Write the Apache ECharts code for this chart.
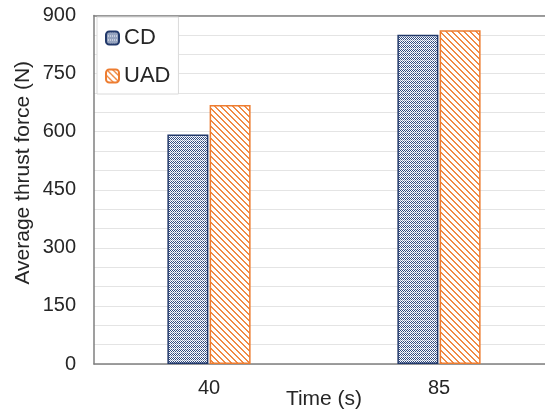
<!DOCTYPE html>
<html>
<head>
<meta charset="utf-8">
<script src="https://cdn.jsdelivr.net/npm/echarts@6/dist/echarts.min.js"></script>
<style>html,body{margin:0;padding:0;background:#fff}#c{width:545px;height:412px}</style>
</head>
<body>
<div id="c"></div>
<script>
const categories = ['40', '85'];
const seriesNames = ['CD', 'UAD'];
const cdValues = [593, 850];
const uadValues = [669, 862];

function cdPattern() {
  const c = document.createElement('canvas');
  c.width = 4; c.height = 4;
  const g = c.getContext('2d');
  g.fillStyle = '#ffffff'; g.fillRect(0, 0, 4, 4);
  for (let y = 0; y < 4; y++) for (let x = 0; x < 4; x++) {
    if (y === 0) { if (x % 2 === 0) { g.fillStyle = '#8d9cbc'; g.fillRect(x, y, 1, 1); } }
    else if ((x + y) % 2 === 0) { g.fillStyle = '#2e4a80'; g.fillRect(x, y, 1, 1); }
  }
  return { image: c, repeat: 'repeat' };
}
function uadPattern() {
  const c = document.createElement('canvas');
  c.width = 6; c.height = 6;
  const g = c.getContext('2d');
  g.fillStyle = '#ffffff'; g.fillRect(0, 0, 6, 6);
  g.fillStyle = '#f08a44';
  for (let y = 0; y < 6; y++) for (let x = 0; x < 6; x++) {
    const d = ((x - y) % 6 + 6) % 6;
    if (d === 0 || d === 1) g.fillRect(x, y, 1, 1);
  }
  return { image: c, repeat: 'repeat' };
}

const font = 'Liberation Sans, Arial, sans-serif';
const axisColor = '#7f7f7f';
const chart = echarts.init(document.getElementById('c'));
chart.setOption({
  animation: false,
  textStyle: { fontFamily: font },
  legend: {
    data: seriesNames,
    orient: 'vertical',
    left: 97, top: 17,
    itemWidth: 13, itemHeight: 13, itemGap: 16,
    backgroundColor: '#ffffff',
    borderColor: '#dadada', borderWidth: 1,
    padding: [10, 8, 7, 8],
    textStyle: { fontSize: 22, color: '#262626', fontFamily: font }
  },
  grid: { left: 94, top: 15.5, width: 460, bottom: 48, outerBoundsMode: 'none', containLabel: false },
  xAxis: [{
    type: 'category',
    data: categories,
    axisLine: { lineStyle: { color: axisColor, width: 1.5 } },
    axisTick: { show: false },
    axisLabel: { fontSize: 20, color: '#262626', margin: 14 },
    name: 'Time (s)', nameLocation: 'middle', nameGap: 25, nameMoveOverlap: false,
    nameTextStyle: { fontSize: 21, color: '#262626' }
  }, {
    type: 'category', position: 'top',
    data: categories,
    axisLine: { show: true, lineStyle: { color: axisColor, width: 1.5 } },
    axisTick: { show: false },
    axisLabel: { show: false }
  }],
  yAxis: {
    type: 'value', min: 0, max: 900, interval: 50,
    axisLine: { show: true, lineStyle: { color: axisColor, width: 1.5 } },
    axisTick: { show: false },
    axisLabel: { fontSize: 20, color: '#262626', margin: 18,
      formatter: v => (v % 150 === 0 ? String(v) : '') },
    splitLine: { lineStyle: { color: '#e4e4e4', width: 1 } },
    name: 'Average thrust force (N)', nameLocation: 'middle', nameGap: 60, nameMoveOverlap: false,
    nameTextStyle: { fontSize: 21, color: '#262626', padding: [0, 0, 0, 34] }
  },
  series: [
    { name: 'CD', type: 'bar', data: cdValues, barWidth: 41, barGap: '3%',
      itemStyle: { color: cdPattern(), borderColor: '#22396a', borderWidth: 1.5 } },
    { name: 'UAD', type: 'bar', data: uadValues, barWidth: 41,
      itemStyle: { color: uadPattern(), borderColor: '#ed7d31', borderWidth: 1.5 } }
  ]
});
</script>
</body>
</html>
